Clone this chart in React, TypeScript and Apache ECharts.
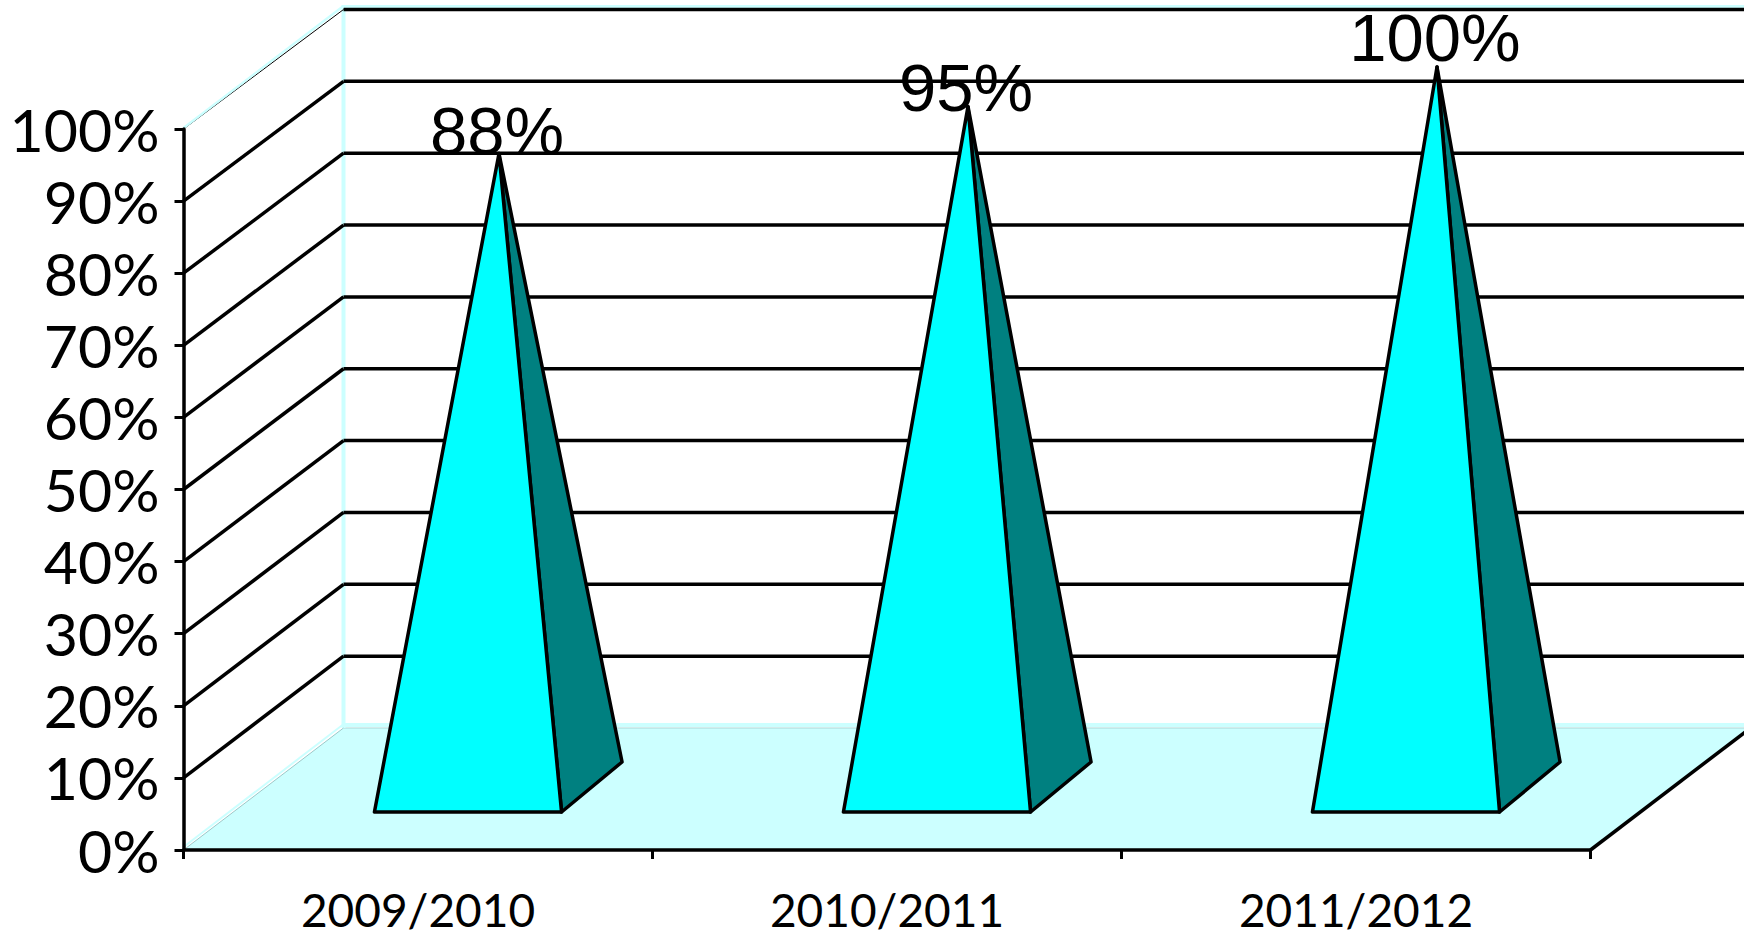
import React, { useEffect, useRef } from "react";
import * as echarts from "echarts";

const categories = ["2009/2010", "2010/2011", "2011/2012"];
const shareValues = [88, 94.5, 100];
const shareLabels = ["88%", "95%", "100%"];
const wallTicks = [10, 20, 30, 40, 50, 60, 70, 80, 90, 100];

const DEPTH_X = 160;
const DEPTH_Y = 122;
const BACK_SHRINK = 0.025;
const BLACK = "#000000";
const PALE = "#CCFFFF";
const STROKE = 3.5;

export default function App() {
  const ref = useRef<HTMLDivElement>(null);
  useEffect(() => {
    document.body.style.margin = "0";
    const chart = echarts.init(ref.current!, null, { renderer: "svg" });

    const renderFloor = (params: any, api: any) => {
      const c = params.coordSys;
      const left = c.x;
      const right = c.x + c.width;
      const y0 = api.coord([0, 0])[1];
      const y100 = api.coord([0, 100])[1];
      const backX = left + DEPTH_X;
      const farX = right + DEPTH_X;
      const line = (x1: number, y1: number, x2: number, y2: number, stroke: string, lineWidth: number) => ({
        type: "line",
        shape: { x1, y1, x2, y2 },
        style: { stroke, lineWidth },
      });
      return {
        type: "group",
        children: [
          {
            type: "polygon",
            shape: { points: [[left, y0], [backX, y0 - DEPTH_Y], [farX, y0 - DEPTH_Y], [right, y0]] },
            style: { fill: PALE, stroke: "none" },
          },
          line(backX, y0 - DEPTH_Y - 3, farX, y0 - DEPTH_Y - 3, PALE, 4),
          line(backX, y0 - DEPTH_Y, farX, y0 - DEPTH_Y, "#A9D6D6", 1),
          line(backX, y100 - DEPTH_Y - 2, backX, y0 - DEPTH_Y, PALE, 4),
          line(backX, y100 - DEPTH_Y, farX, y100 - DEPTH_Y, PALE, 4),
          line(left, y0, backX, y0 - DEPTH_Y, "#9CC8C8", 1),
          line(left, y0 - 3, backX - 1, y0 - DEPTH_Y - 3, PALE, 2),
          line(right, y0, farX, y0 - DEPTH_Y, BLACK, STROKE),
        ],
      };
    };

    const renderWall = (params: any, api: any) => {
      const c = params.coordSys;
      const v = api.value(1);
      const y = api.coord([0, v])[1];
      const top = v === 100;
      const backX = c.x + DEPTH_X;
      const backY = y - DEPTH_Y + v * BACK_SHRINK;
      const children: any[] = [
        {
          type: "line",
          shape: { x1: c.x, y1: y, x2: backX, y2: backY },
          style: { stroke: BLACK, lineWidth: top ? 1 : STROKE },
        },
        {
          type: "line",
          shape: { x1: backX, y1: backY, x2: c.x + c.width + DEPTH_X, y2: backY },
          style: { stroke: BLACK, lineWidth: STROKE },
        },
      ];
      if (top) {
        children.push({
          type: "line",
          shape: { x1: c.x, y1: y - 1, x2: backX, y2: y - DEPTH_Y - 1 },
          style: { stroke: PALE, lineWidth: 2.5 },
        });
      }
      return { type: "group", children };
    };

    const labelNudge = [-4, 0, -10];
    const renderPyramid = (params: any, api: any) => {
      const idx = api.value(0);
      const value = api.value(1);
      const base = api.coord([idx, 0]);
      const tip = api.coord([idx, value]);
      const halfWidth = api.size([1, 0])[0] * 0.1995;
      const frontY = base[1] - 38;
      const frontX = base[0] + 50;
      const fl = [frontX - halfWidth, frontY];
      const fr = [frontX + halfWidth, frontY];
      const br = [base[0] + 110.5 + halfWidth, base[1] - 88];
      const apex = [base[0] + 81, tip[1] - 62];
      return {
        type: "group",
        children: [
          {
            type: "polygon",
            shape: { points: [fr, br, apex] },
            style: { fill: "#008080", stroke: BLACK, lineWidth: STROKE, lineJoin: "round" },
          },
          {
            type: "polygon",
            shape: { points: [fl, fr, apex] },
            style: { fill: "#00FFFF", stroke: BLACK, lineWidth: STROKE, lineJoin: "round" },
          },
          {
            type: "text",
            style: {
              text: shareLabels[idx],
              x: apex[0] - 2,
              y: apex[1] + labelNudge[idx] + 14,
              align: "center",
              verticalAlign: "bottom",
              fill: BLACK,
              font: '67px "Liberation Sans"',
            },
          },
        ],
      };
    };

    chart.setOption({
      animation: false,
      backgroundColor: "#FFFFFF",
      grid: { left: 183.5, right: 153.5, top: 129, bottom: 86, containLabel: false },
      xAxis: {
        type: "category",
        data: categories,
        z: 5,
        axisLine: { lineStyle: { color: BLACK, width: STROKE } },
        axisTick: { show: true, alignWithLabel: false, length: 9, lineStyle: { color: BLACK, width: 3 } },
        axisLabel: { color: BLACK, fontFamily: "Lato", fontSize: 46, lineHeight: 46, margin: 36, interval: 0 },
        splitLine: { show: false },
      },
      yAxis: {
        type: "value",
        min: 0,
        max: 100,
        interval: 10,
        z: 5,
        axisLine: { show: true, lineStyle: { color: BLACK, width: STROKE } },
        axisTick: { show: true, length: 9, lineStyle: { color: BLACK, width: 3 } },
        axisLabel: {
          color: BLACK,
          fontFamily: "Lato",
          fontSize: 59,
          margin: 24,
          padding: [8, 0, 0, 0],
          formatter: "{value}%",
        },
        splitLine: { show: false },
      },
      series: [
        { type: "custom", z: 1, clip: false, silent: true, renderItem: renderFloor, encode: { x: 0, y: 1 }, data: [[0, 0]] },
        { type: "custom", z: 2, clip: false, silent: true, renderItem: renderWall, encode: { x: 0, y: 1 }, data: wallTicks.map((v) => [0, v]) },
        { type: "custom", z: 6, clip: false, silent: true, renderItem: renderPyramid, encode: { x: 0, y: 1 }, data: shareValues.map((v, i) => [i, v]) },
      ],
    });
    return () => chart.dispose();
  }, []);
  return <div ref={ref} style={{ width: 1744, height: 936, overflow: "hidden" }} />;
}
